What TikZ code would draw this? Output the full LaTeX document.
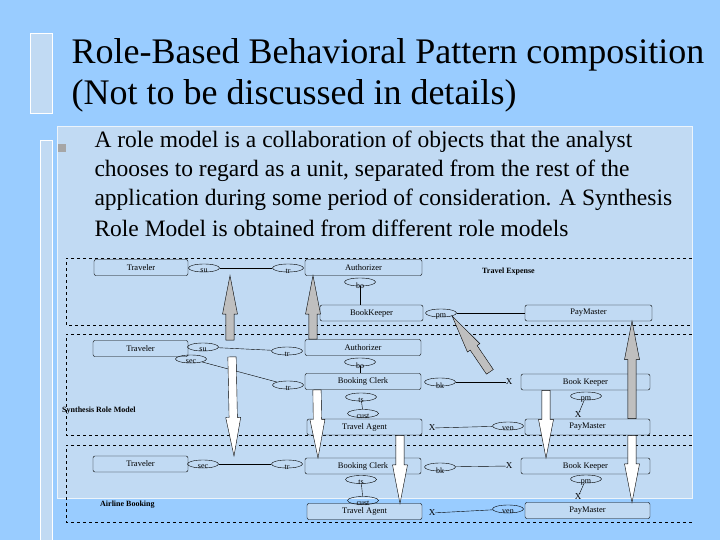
\documentclass[tikz,border=0pt]{standalone}
\usepackage{fontspec}
\setmainfont{Liberation Serif}
\usetikzlibrary{shapes.geometric,shapes.arrows,calc}
\definecolor{slidebg}{RGB}{153,204,255}
\definecolor{panelbg}{RGB}{193,218,243}
\tikzset{
  role/.style={draw, rounded corners=2pt, fill=panelbg, minimum height=16pt, inner sep=0pt, font=\fontsize{8.5}{9}\selectfont},
  port/.style={draw, ellipse, minimum width=31pt, minimum height=8pt, inner sep=0pt},
  lbl/.style={font=\fontsize{8}{8}\selectfont, inner sep=0pt, label distance=-3.5pt},
  crs/.style={font=\fontsize{9}{9}\selectfont, inner sep=0pt},
  grp/.style={draw, dashed, thick},
  grpname/.style={font=\fontsize{8}{8}\selectfont\bfseries, inner sep=0pt},
}
\newcommand\blockarr[3]{% fill, from, to
  \path let \p1=($(#3)-(#2)$), \n1={veclen(\x1,\y1)}, \n2={atan2(\y1,\x1)} in
    node[single arrow, draw, fill=#1, anchor=tail, rotate=\n2, minimum height=\n1,
         minimum width=15pt, inner sep=3.5pt, single arrow tip angle=22,
         single arrow head extend=3pt] at (#2) {};}
\begin{document}
\begin{tikzpicture}[x=1pt,y=-1pt]
\useasboundingbox (0,0) rectangle (720,540);
\fill[slidebg] (0,0) rectangle (720,540);
\fill[panelbg] (57,126) rectangle (692,498);
\draw[white!70!panelbg, thick] (57,126) rectangle (692,498);
\draw[white, fill=panelbg, thick] (30,33) rectangle (52,113);
\draw[white, fill=panelbg, thick] (40,540) -- (40,140) -- (52,140) -- (52,540);
% title and bullet
\node[anchor=base west, font=\fontsize{36}{36}\selectfont] at (68,64) {Role-Based Behavioral Pattern composition};
\node[anchor=base west, font=\fontsize{36}{36}\selectfont] at (68,105) {(Not to be discussed in details)};
\fill[gray!70] (58,144) rectangle (66,152);
\foreach \t[count=\i] in {{A role model is a collaboration of objects that the analyst},
    {chooses to regard as a unit, separated from the rest of the},
    {application during some period of consideration. A Synthesis},
    {Role Model is obtained from different role models}}
  \node[anchor=base west, font=\fontsize{23.5}{24}\selectfont] at (91,{119+\i*28.7+(\i==4)*3}) {\t};
% groups
\draw[grp] (692,258) -- (66,258) -- (66,325) -- (692,325);
\draw[grp] (692,334) -- (66,334) -- (66,435) -- (692,435);
\draw[grp] (692,445) -- (66,445) -- (66,522) -- (692,522);
\node[grpname, anchor=west] at (482,272) {Travel Expense};
\node[grpname, anchor=west] at (62,411) {Synthesis Role Model};
\node[grpname, anchor=west] at (100,505) {Airline Booking};
% Travel Expense
\node[role, minimum width=94pt] (trv1) at (141,267.5) {Traveler};
\node[role, minimum width=117pt] (aut1) at (363.5,267.5) {Authorizer};
\node[role, minimum width=103pt] (bkk1) at (371.5,313) {BookKeeper};
\node[role, minimum width=127pt] (pay1) at (588.5,313) {PayMaster};
\node[port, label={[lbl]-90:su}] (su1) at (204,268) {};
\node[port, label={[lbl]-90:tr}] (tr1) at (288,268) {};
\node[port, label={[lbl]-90:bo}] (bo1) at (360,282) {};
\node[port, label={[lbl]-90:pm}] (pm1) at (441,313) {};
\draw (su1) -- (tr1);
\draw (bo1) -- (bo1 |- bkk1.north);
\draw (pm1) -- (pay1);
% Synthesis Role Model
\node[role, minimum width=95pt] (trv2) at (140.5,348.5) {Traveler};
\node[role, minimum width=116pt] (aut2) at (363,347.5) {Authorizer};
\node[role, minimum width=116pt] (bc2) at (363,381.5) {Booking Clerk};
\node[role, minimum width=129pt] (bkp2) at (585.5,382) {Book Keeper};
\node[role, minimum width=115pt] (ta2) at (364.5,427) {Travel Agent};
\node[role, minimum width=125pt] (pay2) at (587.5,427) {PayMaster};
\node[port, label={[lbl]-90:su}] (su2) at (203,347) {};
\node[port, label={[lbl]-90:sec}] (sec2) at (191,359) {};
\node[port, label={[lbl]-90:tr}] (tr2) at (287,351) {};
\node[port, label={[lbl]-90:tr}] (tr3) at (288,385) {};
\node[port, label={[lbl]-90:bo}] (bo2) at (360,362) {};
\node[port, label={[lbl]-90:bk}] (bk2) at (440,382) {};
\node[port, label={[lbl]-90:ts}] (ts2) at (361,397) {};
\node[port, label={[lbl]-90:cust}] (cu2) at (363,413.5) {};
\node[port, label={[lbl]-90:pm}] (pm2) at (586,396) {};
\node[port, label={[lbl]-90:ven}] (ve2) at (508,426) {};
\node[crs] (xa2) at (509,382) {X};
\node[crs] (xb2) at (432,428) {X};
\node[crs] (xc2) at (578,415) {X};
\draw (su2) -- (tr2);
\draw (sec2) -- (tr3);
\draw (bo2) -- (bo2 |- bc2.north);
\draw (bk2) -- (xa2);
\draw (ts2) -- (cu2);
\draw (xb2) -- (ve2);
\draw (pm2) -- (xc2);
% Airline Booking
\node[role, minimum width=95pt] (trv3) at (140.5,464) {Traveler};
\node[role, minimum width=116pt] (bc3) at (363,466) {Booking Clerk};
\node[role, minimum width=129pt] (bkp3) at (585.5,466) {Book Keeper};
\node[role, minimum width=115pt] (ta3) at (364.5,511.5) {Travel Agent};
\node[role, minimum width=125pt] (pay3) at (587.5,510.5) {PayMaster};
\node[port, label={[lbl]-90:sec}] (sec3) at (203,464) {};
\node[port, label={[lbl]-90:tr}] (tr4) at (287,464) {};
\node[port, label={[lbl]-90:bk}] (bk3) at (440,467) {};
\node[port, label={[lbl]-90:ts}] (ts3) at (361,479.5) {};
\node[port, label={[lbl]-90:cust}] (cu3) at (363,500.5) {};
\node[port, label={[lbl]-90:pm}] (pm3) at (586,479) {};
\node[port, label={[lbl]-90:ven}] (ve3) at (508,509) {};
\node[crs] (xa3) at (509,466) {X};
\node[crs] (xb3) at (432,513) {X};
\node[crs] (xc3) at (578,497) {X};
\draw (sec3) -- (tr4);
\draw (bk3) -- (xa3);
\draw (ts3) -- (cu3);
\draw (xb3) -- (ve3);
\draw (pm3) -- (xc3);
% role mappings
\coordinate (ga) at (490,372);
\blockarr{gray!50}{trv2.north -| 230,0}{trv1.south -| 230,0}
\blockarr{gray!50}{aut2.north -| 313,0}{aut1.south -| 313,0}
\blockarr{gray!50}{ga}{pm1.south east}
\blockarr{gray!50}{pay2.north -| 632,0}{pay1.south -| 632,0}
\blockarr{white}{trv2.south -| 232,0}{trv3.north -| 234,0}
\blockarr{white}{bc2.south -| 317,0}{bc3.north -| 318,0}
\blockarr{white}{ta2.south -| 400,0}{ta3.north -| 400,0}
\blockarr{white}{bkp2.south -| 546,0}{bkp3.north -| 546,0}
\blockarr{white}{pay2.south -| 632,0}{pay3.north -| 632,0}
\end{tikzpicture}
\end{document}
